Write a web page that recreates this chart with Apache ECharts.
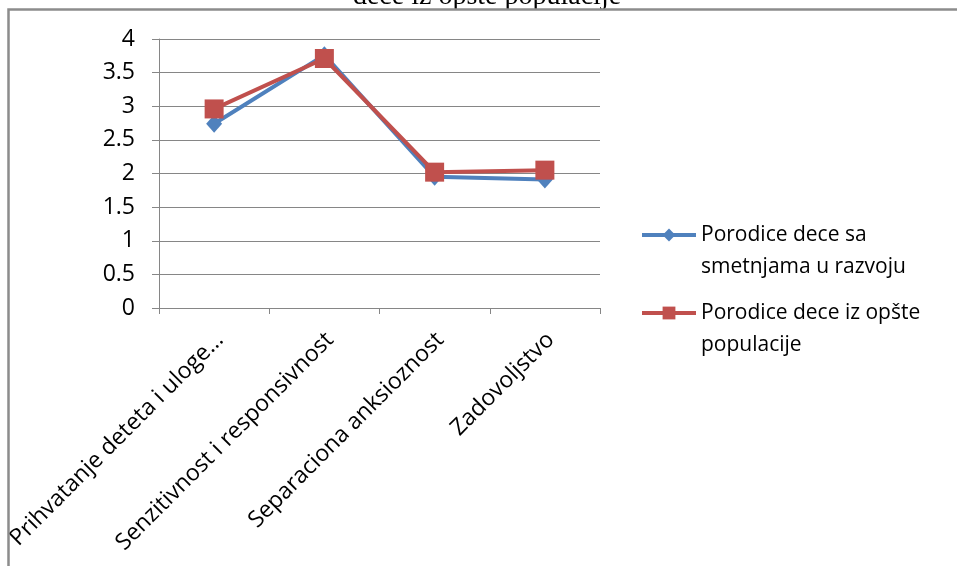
<!DOCTYPE html>
<html>
<head>
<meta charset="utf-8">
<script src="https://cdn.jsdelivr.net/npm/echarts@6/dist/echarts.min.js"></script>
<style>
  html, body { margin: 0; padding: 0; background: #fff; }
  #chart { width: 957px; height: 566px; }
</style>
</head>
<body>
<div id="chart"></div>
<script>
// Dimenzije roditeljskog ponašanja – prosečne vrednosti po grupama
const categories = [
  'Prihvatanje deteta i uloge…',
  'Senzitivnost i responsivnost',
  'Separaciona anksioznost',
  'Zadovoljstvo'
];
const seriesNames = [
  'Porodice dece sa\nsmetnjama u razvoju',
  'Porodice dece iz opšte\npopulacije'
];
const smetnjeValues = [2.74, 3.76, 1.95, 1.91];
const opstaValues = [2.96, 3.71, 2.02, 2.05];
const yTicks = { min: 0, max: 4, interval: 0.5 };
const titleText = 'dece iz opšte populacije';

const labelFont = '"Open Sans", "Liberation Sans", sans-serif';
const legendLine = 32;

const chart = echarts.init(document.getElementById('chart'), null, { renderer: 'canvas' });

chart.setOption({
  backgroundColor: '#ffffff',
  animation: false,
  grid: {
    left: 159, right: 357, top: 39, bottom: 258,
    containLabel: false,
    outerBoundsMode: 'none'
  },
  xAxis: {
    type: 'category',
    data: categories,
    boundaryGap: true,
    axisLine: { show: true, lineStyle: { color: '#868686', width: 1 } },
    axisTick: { show: true, length: 6, alignWithLabel: false, lineStyle: { color: '#868686' } },
    axisLabel: {
      rotate: 45,
      interval: 0,
      margin: 34,
      padding: [0, -8, 0, 0],
      color: '#000',
      fontSize: 23,
      fontFamily: labelFont
    },
    splitLine: { show: false }
  },
  yAxis: {
    type: 'value',
    min: yTicks.min,
    max: yTicks.max,
    interval: yTicks.interval,
    axisLine: { show: true, lineStyle: { color: '#868686', width: 1 } },
    axisTick: { show: true, length: 7, lineStyle: { color: '#868686' } },
    axisLabel: {
      color: '#000',
      fontSize: 23,
      fontFamily: labelFont,
      margin: 24
    },
    splitLine: { show: true, lineStyle: { color: '#868686', width: 1 } }
  },
  legend: {
    orient: 'vertical',
    left: 640,
    top: 235 - legendLine - legendLine / 2,
    padding: 0,
    itemWidth: 54,
    itemHeight: 16,
    itemGap: 78 - 3 * legendLine,
    lineStyle: { width: 4 },
    // blank leading line keeps the icon level with the first text line
    formatter: name => '\n' + name,
    textStyle: {
      color: '#000',
      fontSize: 21,
      fontFamily: labelFont,
      lineHeight: legendLine
    },
    data: seriesNames
  },
  series: [
    {
      name: seriesNames[0],
      type: 'line',
      data: smetnjeValues,
      symbol: 'diamond',
      symbolSize: [16, 18],
      lineStyle: { color: '#4F81BD', width: 4 },
      itemStyle: { color: '#4F81BD' },
      z: 2
    },
    {
      name: seriesNames[1],
      type: 'line',
      data: opstaValues,
      symbol: 'rect',
      symbolSize: 19,
      lineStyle: { color: '#C0504D', width: 4 },
      itemStyle: { color: '#C0504D' },
      z: 3
    }
  ],
  graphic: [
    {
      type: 'text',
      x: 487,
      y: 11,
      style: {
        text: titleText,
        fill: '#000',
        font: '28px "Liberation Serif", "DejaVu Serif", serif',
        textAlign: 'center',
        textVerticalAlign: 'bottom'
      },
      z: 1
    },
    {
      type: 'polyline',
      shape: { points: [[8.5, 566], [8.5, 9.5], [957, 9.5]] },
      style: { stroke: '#8c8c8c', lineWidth: 2.5, fill: null },
      z: 10
    }
  ]
});
</script>
</body>
</html>
